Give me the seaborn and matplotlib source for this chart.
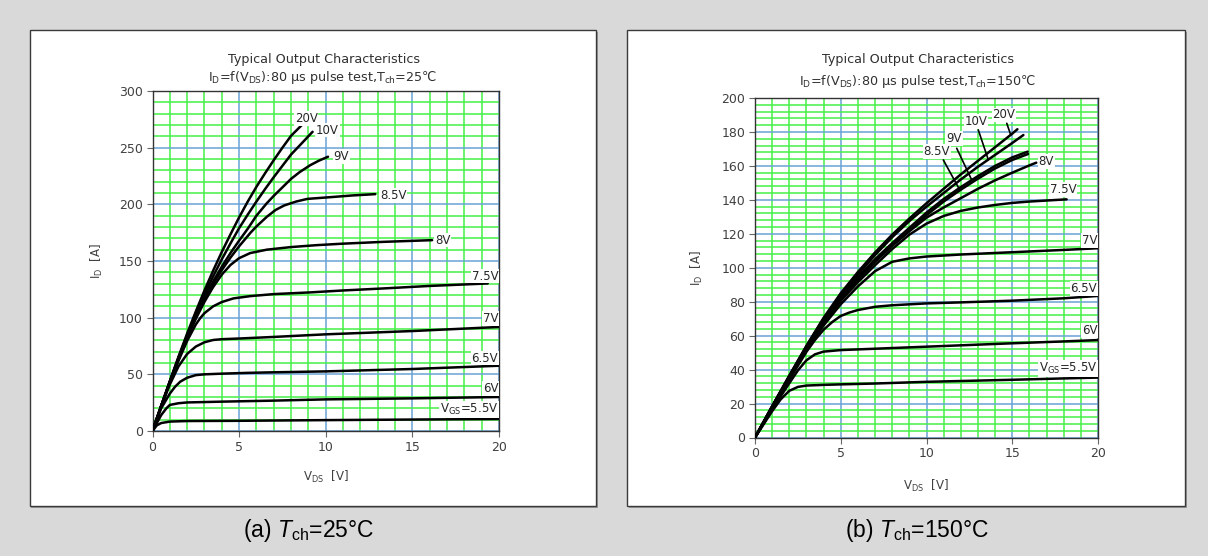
import numpy as np
import pandas as pd
import matplotlib
matplotlib.use("Agg")
import matplotlib.pyplot as plt
from matplotlib.patches import Rectangle
from matplotlib.ticker import MultipleLocator
import seaborn as sns

sns.set_theme(style="white")
plt.rcParams["font.family"] = ["DejaVu Sans"]
plt.rcParams["mathtext.fontset"] = "custom"
plt.rcParams["mathtext.rm"] = "Liberation Sans"
plt.rcParams["mathtext.it"] = "Liberation Sans:italic"

# ---------------- Tch = 25 degC : ID [A] versus VDS [V] ----------------
v25_20 = [0, 0.5, 1, 1.5, 2, 2.5, 3, 3.5, 4, 4.5, 5, 5.5, 6, 6.5, 7, 7.5, 8, 8.62]
i25_20 = [0, 22, 44, 65.5, 86, 105.5, 124, 141.5, 158, 173.5, 188.5, 202.5, 215.5, 227.5, 239, 250, 260.5, 270]
v25_10 = [0, 0.5, 1, 1.5, 2, 2.5, 3, 3.5, 4, 4.5, 5, 5.5, 6, 6.5, 7, 7.5, 8, 8.5, 9.24]
i25_10 = [0, 22, 43.5, 64.5, 84.5, 103, 120.5, 136.5, 151.5, 165.5, 179, 191, 202.5, 213.5, 224, 234, 244, 252, 264]
v25_9 = [0, 0.5, 1, 1.5, 2, 2.5, 3, 3.5, 4, 4.5, 5, 5.5, 6, 6.6, 7, 7.5, 8, 8.5, 9.1, 9.6, 10.13]
i25_9 = [0, 22, 43.5, 64.5, 84, 101.5, 117.5, 132, 145, 157, 168, 178.5, 190, 201, 207.5, 215, 222.5, 228.5, 234.5, 238.5, 242]
v25_85 = [0, 0.5, 1, 1.5, 2, 2.5, 3, 3.5, 4, 4.5, 5, 5.66, 6, 6.6, 7.1, 7.6, 8.3, 8.94, 10.5, 11.5, 12.86]
i25_85 = [0, 22, 43.5, 64, 83, 100.5, 116, 130, 142, 153, 163, 175, 180.5, 189, 195, 199, 202.5, 204.8, 206.6, 207.8, 209]
v25_8 = [0, 0.5, 1, 1.5, 2, 2.5, 3, 3.5, 4, 4.5, 5, 5.64, 6.6, 8, 9.49, 11, 13.34, 16.14]
i25_8 = [0, 22, 43, 63, 82, 99, 114, 127, 138, 146.5, 152.5, 157, 160, 162.3, 164, 165.3, 166.9, 168.4]
v25_75 = [0, 0.5, 1, 1.5, 2, 2.5, 2.75, 3, 3.5, 4, 4.67, 5.64, 7, 9.1, 11, 13.34, 16, 18, 19.35]
i25_75 = [0, 22, 43, 62, 79.5, 94, 99.5, 104, 110, 113.8, 117, 119, 120.8, 122.3, 124, 125.8, 128, 129.3, 130.2]
v25_7 = [0, 0.5, 1, 1.5, 2, 2.5, 3, 3.5, 4, 5, 7, 10, 15, 20]
i25_7 = [0, 21.5, 41, 57, 68, 74.5, 78.3, 80.3, 81, 81.6, 83, 85.3, 88.2, 91.8]
v25_65 = [0, 0.5, 1, 1.3, 1.6, 2, 2.5, 3, 4, 5.5, 7, 10, 15, 20]
i25_65 = [0, 20, 33, 39, 43.5, 47, 49.3, 50, 50.6, 51.3, 51.8, 52.6, 54.7, 57.6]
v25_6 = [0, 0.5, 0.8, 1, 1.5, 2, 4, 7, 10, 15, 20]
i25_6 = [0, 14, 20, 23, 24.5, 25.2, 25.9, 26.8, 27.9, 28.8, 30]
v25_55 = [0, 0.25, 0.5, 1, 2, 5, 10, 15, 20]
i25_55 = [0, 5, 7, 8.3, 8.8, 9.0, 9.6, 10.1, 10.6]

# ---------------- Tch = 150 degC ----------------
v150_20 = [0, 1, 2, 3, 4, 5, 6, 7, 8, 9, 10, 11, 12, 13, 14, 15, 15.3]
i150_20 = [0, 18.5, 36.5, 54, 70.5, 85, 97.5, 109, 119.5, 129, 138, 146.5, 155, 163, 171, 179, 181.6]
v150_10 = [0, 1, 2, 3, 4, 5, 6, 7, 8, 9, 10, 11, 12, 13, 14, 15, 15.65]
i150_10 = [0, 18.3, 36.2, 53.8, 70, 84, 96, 107.5, 118, 127.5, 136, 144, 152, 159.5, 166.5, 173.5, 178.2]
v150_9 = [0, 1, 2, 3, 4, 5, 6, 7, 8, 9, 10, 11, 12, 13, 14, 15, 15.9]
i150_9 = [0, 18.2, 36, 53.3, 69.2, 82.8, 94.5, 105, 114.5, 123.5, 132.5, 140.5, 147.5, 154, 160, 165, 168.4]
v150_85 = [0, 1, 2, 3, 4, 5, 6, 7, 8, 9, 10, 11, 12, 13, 14, 15, 15.92]
i150_85 = [0, 18.1, 35.8, 53, 68.8, 82, 93.5, 103.8, 113, 121.8, 131, 139, 146, 152.5, 158.5, 163.5, 167]
v150_8 = [0, 1, 2, 3, 4, 5, 6, 7, 8, 9, 10, 11, 12, 13, 14, 15, 16, 16.4]
i150_8 = [0, 18, 35.6, 52.8, 68, 81.5, 93, 103.5, 113, 121.5, 129.5, 135.5, 141, 146.5, 151.5, 156, 160.3, 161.9]
v150_75 = [0, 1, 2, 3, 4, 5, 6, 7, 8, 9, 10, 11, 12, 13, 14, 15, 16, 17, 18.17]
i150_75 = [0, 17.8, 35.3, 52.3, 67.5, 80.5, 91.5, 101.5, 111, 119.5, 126, 130.5, 133.5, 135.5, 137, 138.2, 139, 139.6, 140.3]
v150_7 = [0, 1, 2, 3, 4, 5, 6, 7, 8, 9, 10, 12, 14, 16, 18, 20]
i150_7 = [0, 17.5, 34.8, 51.5, 66, 78.5, 89, 98, 103.5, 105.5, 106.6, 107.8, 108.7, 109.6, 110.5, 111.5]
v150_65 = [0, 1, 2, 3, 3.5, 4, 4.5, 5, 5.5, 6, 7, 8, 10, 12, 15, 18, 20]
i150_65 = [0, 17, 34, 50.5, 57.5, 63.5, 68, 71.6, 73.6, 75.1, 77, 77.9, 79, 79.6, 80.6, 82, 83.4]
v150_6 = [0, 1, 2, 2.5, 3, 3.5, 4, 5, 7, 10, 15, 18, 20]
i150_6 = [0, 16.5, 32, 39.5, 45.5, 49, 50.6, 51.5, 52.3, 53.5, 55.5, 56.6, 57.4]
v150_55 = [0, 1, 1.5, 2, 2.5, 3, 4, 5, 7, 10, 15, 18, 20]
i150_55 = [0, 15.5, 22.5, 27.5, 29.8, 30.6, 31, 31.3, 31.8, 32.8, 34, 34.8, 35.3]

gate_labels = ["20V", "10V", "9V", "8.5V", "8V", "7.5V", "7V", "6.5V", "6V", "5.5V"]
curves25 = [(v25_20, i25_20), (v25_10, i25_10), (v25_9, i25_9), (v25_85, i25_85), (v25_8, i25_8),
            (v25_75, i25_75), (v25_7, i25_7), (v25_65, i25_65), (v25_6, i25_6), (v25_55, i25_55)]
curves150 = [(v150_20, i150_20), (v150_10, i150_10), (v150_9, i150_9), (v150_85, i150_85), (v150_8, i150_8),
             (v150_75, i150_75), (v150_7, i150_7), (v150_65, i150_65), (v150_6, i150_6), (v150_55, i150_55)]


def long_frame(curves):
    parts = []
    for name, (v, i) in zip(gate_labels, curves):
        parts.append(pd.DataFrame({"VDS": v, "ID": i, "VGS": name}))
    return pd.concat(parts, ignore_index=True)


W, H = 1208, 556
fig = plt.figure(figsize=(W / 100, H / 100), dpi=100)
fig.patch.set_facecolor("#d9d9d9")

GREEN = "#45f045"
BLUE = "#6aa3d6"
TXT = "#404040"


def fx(px):
    return px / W


def fy(py):
    return 1 - py / H


def panel(x0, x1, y0, y1):
    fig.add_artist(Rectangle((fx(x0) + 1.5 / W, fy(y1) - 1.5 / H), fx(x1) - fx(x0), fy(y0) - fy(y1),
                             transform=fig.transFigure, facecolor="#9a9a9a", edgecolor="none", zorder=-3))
    fig.add_artist(Rectangle((fx(x0), fy(y1)), fx(x1) - fx(x0), fy(y0) - fy(y1),
                             transform=fig.transFigure, facecolor="white", edgecolor="#3a3a3a",
                             linewidth=1.0, zorder=-2))


panel(30, 596, 30, 506)
panel(627, 1185, 30, 506)


def make_axes(x0, x1, ytop, ybot):
    return fig.add_axes([fx(x0), fy(ybot), fx(x1) - fx(x0), fy(ytop) - fy(ybot)])


def style_axes(ax, ymax, ymajor, yminor):
    ax.set_xlim(0, 20)
    ax.set_ylim(0, ymax)
    ax.set_xticks(np.arange(0, 21, 5))
    ax.set_yticks(np.arange(0, ymax + 1, ymajor))
    ax.xaxis.set_minor_locator(MultipleLocator(1))
    ax.yaxis.set_minor_locator(MultipleLocator(yminor))
    ax.set_axisbelow(True)
    ax.grid(which="minor", color=GREEN, linewidth=1.1)
    ax.grid(which="major", color=BLUE, linewidth=1.1)
    ax.tick_params(which="minor", length=0)
    ax.tick_params(which="major", length=4, width=0.8, color="#666666", direction="out",
                   labelsize=9, labelcolor=TXT, pad=3)
    ax.tick_params(axis="x", top=False, bottom=True)
    ax.tick_params(axis="y", right=False, left=True)
    for s in ax.spines.values():
        s.set_color("#333333")
        s.set_linewidth(1.0)
        s.set_visible(True)
    ax.set_xlabel("")
    ax.set_ylabel("")
    ax.set_facecolor("white")


def draw_curves(ax, curves):
    df = long_frame(curves)
    sns.lineplot(data=df, x="VDS", y="ID", units="VGS", estimator=None, sort=False,
                 color="black", linewidth=1.8, ax=ax, zorder=3)


LABEL_KW = dict(fontsize=8.5, color="#262626", zorder=5,
                bbox=dict(facecolor="white", edgecolor="none", pad=0.6))
vgs55 = r"V$_\mathregular{GS}$=5.5V"

# ---- left panel ----
axL = make_axes(152.5, 499, 91, 431)
draw_curves(axL, curves25)
style_axes(axL, 300, 50, 10)
for s, x, y in [("20V", 8.87, 276), ("10V", 10.1, 265.5), ("9V", 10.9, 242),
                ("8.5V", 13.9, 208), ("8V", 16.76, 168.4)]:
    axL.text(x, y, s, ha="center", va="center", **LABEL_KW)
for s, y in [("7.5V", 136.7), ("7V", 99.4), ("6.5V", 64.4), ("6V", 37.7), (vgs55, 19)]:
    axL.text(19.95, y, s, ha="right", va="center", **LABEL_KW)

# ---- right panel ----
axR = make_axes(755, 1098, 98, 437.5)
draw_curves(axR, curves150)
style_axes(axR, 200, 20, 4)
for s, x, y in [("20V", 14.52, 190), ("10V", 12.88, 186), ("9V", 11.6, 176.3),
                ("8.5V", 10.59, 168.4), ("8V", 16.97, 162.5), ("7.5V", 17.96, 146.2)]:
    axR.text(x, y, s, ha="center", va="center", **LABEL_KW)
for s, y in [("7V", 116), ("6.5V", 87.9), ("6V", 62.9), (vgs55, 40.8)]:
    axR.text(19.95, y, s, ha="right", va="center", **LABEL_KW)

# leader lines from the crowded labels down to their curves
for (v, i), (x0, y0), xe in [((v150_20, i150_20), (14.68, 185.1), 14.91),
                             ((v150_10, i150_10), (13.02, 181.2), 13.6),
                             ((v150_9, i150_9), (11.76, 170.4), 12.64),
                             ((v150_85, i150_85), (10.98, 163.5), 11.95)]:
    axR.plot([x0, xe], [y0, np.interp(xe, v, i)], color="black", linewidth=1.2, zorder=4)

# ---- titles and axis labels ----
TITLE_KW = dict(ha="center", va="center", fontsize=9.2, color="#303030")
fig.text(fx(324), fy(59), "Typical Output Characteristics", **TITLE_KW)
fig.text(fx(323), fy(77), r"I$_\mathregular{D}$=f(V$_\mathregular{DS}$):80 μs pulse test,T$_\mathregular{ch}$=25℃",
         **TITLE_KW)
fig.text(fx(918), fy(60), "Typical Output Characteristics", **TITLE_KW)
fig.text(fx(918), fy(82), r"I$_\mathregular{D}$=f(V$_\mathregular{DS}$):80 μs pulse test,T$_\mathregular{ch}$=150℃",
         **TITLE_KW)

AX_KW = dict(fontsize=8.5, color=TXT)
fig.text(fx(326), fy(477), r"V$_\mathregular{DS}$  [V]", ha="center", va="center", **AX_KW)
fig.text(fx(926), fy(486), r"V$_\mathregular{DS}$  [V]", ha="center", va="center", **AX_KW)
fig.text(fx(97), fy(261), r"I$_\mathregular{D}$  [A]", ha="center", va="center", rotation=90, **AX_KW)
fig.text(fx(697), fy(268), r"I$_\mathregular{D}$  [A]", ha="center", va="center", rotation=90, **AX_KW)

CAP_KW = dict(ha="center", va="center", fontsize=16.5, color="black", family="Liberation Sans")
fig.text(fx(309), fy(531), r"(a) $\mathit{T}_\mathregular{ch}$=25°C", **CAP_KW)
fig.text(fx(917), fy(531), r"(b) $\mathit{T}_\mathregular{ch}$=150°C", **CAP_KW)

fig.savefig("out.png", dpi=100, facecolor=fig.get_facecolor())
